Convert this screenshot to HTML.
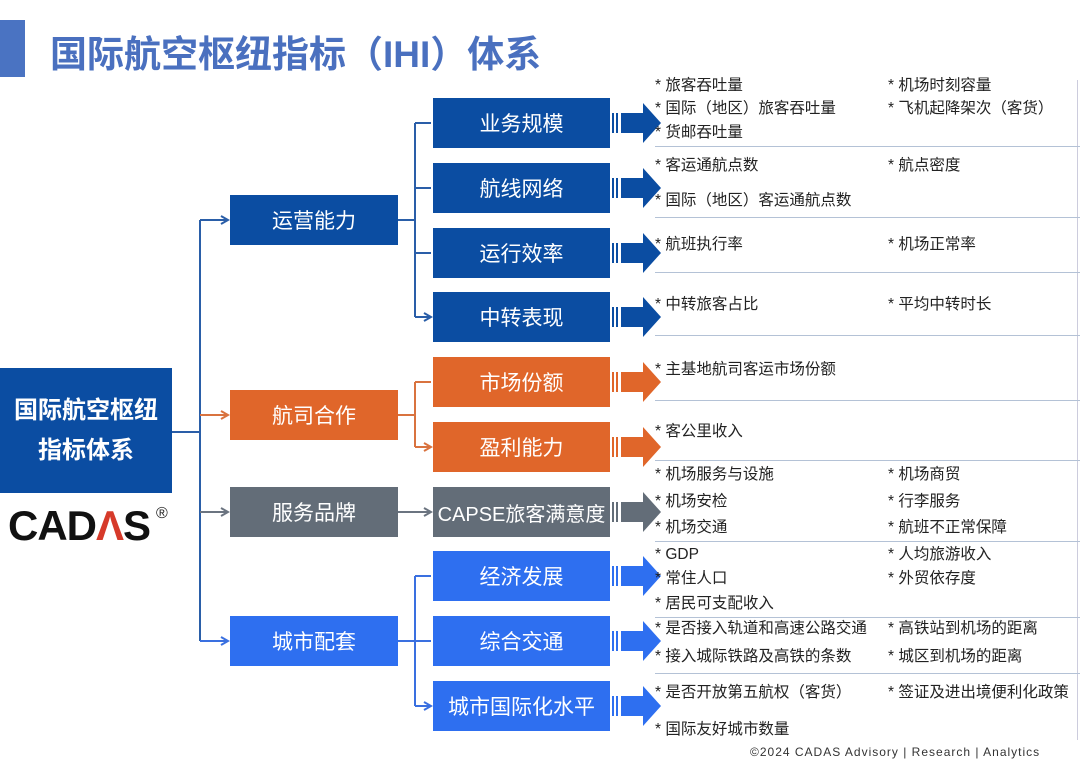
<!DOCTYPE html>
<html><head><meta charset="utf-8"><style>
body{margin:0;width:1080px;height:770px;background:#fff;position:relative;overflow:hidden;font-family:"Liberation Sans","Noto Sans CJK SC",sans-serif}
.b{position:absolute;color:#fff;display:flex;align-items:center;justify-content:center;font-size:21px}
.t{position:absolute;font-size:15.5px;color:#222;white-space:nowrap;line-height:18px}
.l{position:absolute;left:655px;right:0;height:1px;background:#b4c2d6}
</style></head><body>
<div style="position:absolute;left:0;top:20px;width:25px;height:57px;background:#4a73c2"></div>
<div style="position:absolute;left:50px;top:24px;font-size:37px;font-weight:bold;color:#4a70bf">国际航空枢纽指标（IHI）体系</div>
<div style="position:absolute;left:1077px;top:80px;width:1px;height:660px;background:#ccd"></div>

<svg style="position:absolute;left:0;top:0" width="1080" height="770">
<defs>
<marker id="ab" markerWidth="10" markerHeight="10" refX="8" refY="5" orient="auto" markerUnits="userSpaceOnUse"><path d="M1,1 L8,5 L1,9" fill="none" stroke="#2a5ea8" stroke-width="2"/></marker>
<marker id="ao" markerWidth="10" markerHeight="10" refX="8" refY="5" orient="auto" markerUnits="userSpaceOnUse"><path d="M1,1 L8,5 L1,9" fill="none" stroke="#d9733f" stroke-width="2"/></marker>
<marker id="ag" markerWidth="10" markerHeight="10" refX="8" refY="5" orient="auto" markerUnits="userSpaceOnUse"><path d="M1,1 L8,5 L1,9" fill="none" stroke="#6b7480" stroke-width="2"/></marker>
<marker id="al" markerWidth="10" markerHeight="10" refX="8" refY="5" orient="auto" markerUnits="userSpaceOnUse"><path d="M1,1 L8,5 L1,9" fill="none" stroke="#3a70e0" stroke-width="2"/></marker>
</defs>
<g fill="none" stroke-width="2">
<path d="M172,432 H200 M200,220 V641" stroke="#2a5ea8"/>
<path d="M200,220 H228" stroke="#2a5ea8" marker-end="url(#ab)"/>
<path d="M200,415 H228" stroke="#d9733f" marker-end="url(#ao)"/>
<path d="M200,512 H228" stroke="#6b7480" marker-end="url(#ag)"/>
<path d="M200,641 H228" stroke="#3a70e0" marker-end="url(#al)"/>
<path d="M398,220 H415 M415,123 V317" stroke="#2a5ea8"/>
<path d="M415,123 H431 M415,188 H431 M415,253 H431 M415,317 H431" stroke="#2a5ea8" marker-end="url(#ab)"/>
<path d="M398,415 H415 M415,382 V447" stroke="#d9733f"/>
<path d="M415,382 H431 M415,447 H431" stroke="#d9733f" marker-end="url(#ao)"/>
<path d="M398,512 H431" stroke="#6b7480" marker-end="url(#ag)"/>
<path d="M398,641 H415 M415,576 V706" stroke="#3a70e0"/>
<path d="M415,576 H431 M415,641 H431 M415,706 H431" stroke="#3a70e0" marker-end="url(#al)"/>
</g>
<g>
<g fill="#0b4da2"><path d="M621,113 H643 V103 L661,123 L643,143 V133 H621Z"/><rect x="612" y="113" width="2" height="20"/><rect x="616" y="113" width="2" height="20"/></g>
<g fill="#0b4da2" transform="translate(0,65)"><path d="M621,113 H643 V103 L661,123 L643,143 V133 H621Z"/><rect x="612" y="113" width="2" height="20"/><rect x="616" y="113" width="2" height="20"/></g>
<g fill="#0b4da2" transform="translate(0,130)"><path d="M621,113 H643 V103 L661,123 L643,143 V133 H621Z"/><rect x="612" y="113" width="2" height="20"/><rect x="616" y="113" width="2" height="20"/></g>
<g fill="#0b4da2" transform="translate(0,194)"><path d="M621,113 H643 V103 L661,123 L643,143 V133 H621Z"/><rect x="612" y="113" width="2" height="20"/><rect x="616" y="113" width="2" height="20"/></g>
<g fill="#e0662a" transform="translate(0,259)"><path d="M621,113 H643 V103 L661,123 L643,143 V133 H621Z"/><rect x="612" y="113" width="2" height="20"/><rect x="616" y="113" width="2" height="20"/></g>
<g fill="#e0662a" transform="translate(0,324)"><path d="M621,113 H643 V103 L661,123 L643,143 V133 H621Z"/><rect x="612" y="113" width="2" height="20"/><rect x="616" y="113" width="2" height="20"/></g>
<g fill="#636d78" transform="translate(0,389)"><path d="M621,113 H643 V103 L661,123 L643,143 V133 H621Z"/><rect x="612" y="113" width="2" height="20"/><rect x="616" y="113" width="2" height="20"/></g>
<g fill="#2e6ff0" transform="translate(0,453)"><path d="M621,113 H643 V103 L661,123 L643,143 V133 H621Z"/><rect x="612" y="113" width="2" height="20"/><rect x="616" y="113" width="2" height="20"/></g>
<g fill="#2e6ff0" transform="translate(0,518)"><path d="M621,113 H643 V103 L661,123 L643,143 V133 H621Z"/><rect x="612" y="113" width="2" height="20"/><rect x="616" y="113" width="2" height="20"/></g>
<g fill="#2e6ff0" transform="translate(0,583)"><path d="M621,113 H643 V103 L661,123 L643,143 V133 H621Z"/><rect x="612" y="113" width="2" height="20"/><rect x="616" y="113" width="2" height="20"/></g>
</g>
</svg>

<div class="b" style="left:0;top:368px;width:172px;height:125px;background:#0b4da2;font-size:24px;font-weight:bold;text-align:center;line-height:40px">国际航空枢纽<br>指标体系</div>
<div style="position:absolute;left:8px;top:502px;font-size:42px;font-weight:bold;color:#111;letter-spacing:-1px">CAD<span style="color:#d63a2a">Λ</span>S</div>
<div style="position:absolute;left:156px;top:505px;font-size:16px;color:#222">®</div>

<div class="b" style="left:230px;top:195px;width:168px;height:50px;background:#0b4da2">运营能力</div>
<div class="b" style="left:230px;top:390px;width:168px;height:50px;background:#e0662a">航司合作</div>
<div class="b" style="left:230px;top:487px;width:168px;height:50px;background:#636d78">服务品牌</div>
<div class="b" style="left:230px;top:616px;width:168px;height:50px;background:#2e6ff0">城市配套</div>

<div class="b" style="left:433px;top:98px;width:177px;height:50px;background:#0b4da2">业务规模</div>
<div class="b" style="left:433px;top:163px;width:177px;height:50px;background:#0b4da2">航线网络</div>
<div class="b" style="left:433px;top:228px;width:177px;height:50px;background:#0b4da2">运行效率</div>
<div class="b" style="left:433px;top:292px;width:177px;height:50px;background:#0b4da2">中转表现</div>
<div class="b" style="left:433px;top:357px;width:177px;height:50px;background:#e0662a">市场份额</div>
<div class="b" style="left:433px;top:422px;width:177px;height:50px;background:#e0662a">盈利能力</div>
<div class="b" style="left:433px;top:487px;width:177px;height:50px;background:#636d78;font-size:20px">CAPSE旅客满意度</div>
<div class="b" style="left:433px;top:551px;width:177px;height:50px;background:#2e6ff0">经济发展</div>
<div class="b" style="left:433px;top:616px;width:177px;height:50px;background:#2e6ff0">综合交通</div>
<div class="b" style="left:433px;top:681px;width:177px;height:50px;background:#2e6ff0">城市国际化水平</div>

<div class="l" style="top:146px"></div><div class="l" style="top:217px"></div><div class="l" style="top:272px"></div>
<div class="l" style="top:335px"></div><div class="l" style="top:400px"></div><div class="l" style="top:460px"></div>
<div class="l" style="top:541px"></div><div class="l" style="top:617px"></div><div class="l" style="top:673px"></div>

<div class="t" style="left:655px;top:77px">* 旅客吞吐量</div><div class="t" style="left:888px;top:77px">* 机场时刻容量</div>
<div class="t" style="left:655px;top:100px">* 国际（地区）旅客吞吐量</div><div class="t" style="left:888px;top:100px">* 飞机起降架次（客货）</div>
<div class="t" style="left:655px;top:124px">* 货邮吞吐量</div>
<div class="t" style="left:655px;top:157px">* 客运通航点数</div><div class="t" style="left:888px;top:157px">* 航点密度</div>
<div class="t" style="left:655px;top:192px">* 国际（地区）客运通航点数</div>
<div class="t" style="left:655px;top:236px">* 航班执行率</div><div class="t" style="left:888px;top:236px">* 机场正常率</div>
<div class="t" style="left:655px;top:296px">* 中转旅客占比</div><div class="t" style="left:888px;top:296px">* 平均中转时长</div>
<div class="t" style="left:655px;top:361px">* 主基地航司客运市场份额</div>
<div class="t" style="left:655px;top:423px">* 客公里收入</div>
<div class="t" style="left:655px;top:466px">* 机场服务与设施</div><div class="t" style="left:888px;top:466px">* 机场商贸</div>
<div class="t" style="left:655px;top:493px">* 机场安检</div><div class="t" style="left:888px;top:493px">* 行李服务</div>
<div class="t" style="left:655px;top:519px">* 机场交通</div><div class="t" style="left:888px;top:519px">* 航班不正常保障</div>
<div class="t" style="left:655px;top:546px">* GDP</div><div class="t" style="left:888px;top:546px">* 人均旅游收入</div>
<div class="t" style="left:655px;top:570px">* 常住人口</div><div class="t" style="left:888px;top:570px">* 外贸依存度</div>
<div class="t" style="left:655px;top:595px">* 居民可支配收入</div>
<div class="t" style="left:655px;top:620px">* 是否接入轨道和高速公路交通</div><div class="t" style="left:888px;top:620px">* 高铁站到机场的距离</div>
<div class="t" style="left:655px;top:648px">* 接入城际铁路及高铁的条数</div><div class="t" style="left:888px;top:648px">* 城区到机场的距离</div>
<div class="t" style="left:655px;top:684px">* 是否开放第五航权（客货）</div><div class="t" style="left:888px;top:684px">* 签证及进出境便利化政策</div>
<div class="t" style="left:655px;top:721px">* 国际友好城市数量</div>
<div class="t" style="left:750px;top:743px;font-size:12px;letter-spacing:1px;color:#333">©2024 CADAS Advisory | Research | Analytics</div>
</body></html>
